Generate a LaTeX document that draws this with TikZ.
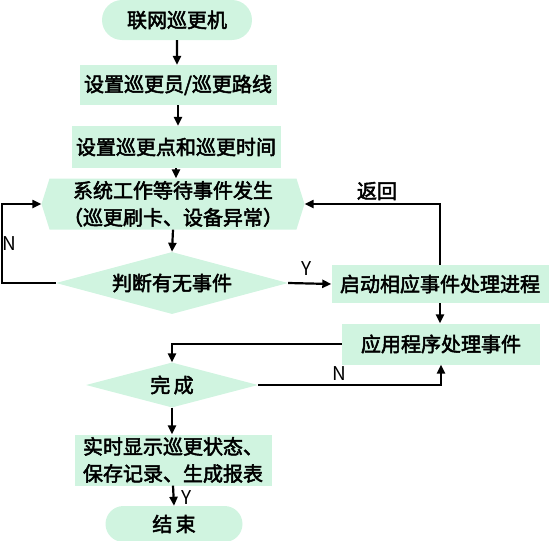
\documentclass[tikz,border=0pt]{standalone}
\usepackage{fontspec}
\setmainfont{Noto Sans CJK SC}[FakeBold=2.5]
\newfontfamily\latinlab{Noto Sans CJK SC}
\usetikzlibrary{shapes.geometric,shapes.misc,shapes.symbols,arrows.meta}
\definecolor{mint}{RGB}{208,244,224}
\begin{document}
\begin{tikzpicture}[x=1pt,y=-1pt,
  every node/.style={font=\fontsize{20}{27}\selectfont, inner sep=0pt},
  box/.style={fill=mint, rectangle},
  term/.style={fill=mint, rounded rectangle},
  dia/.style={fill=mint, diamond, aspect=3.7},
  hexa/.style={fill=mint, signal, signal to=east and west, signal pointer angle=145},
  conn/.style={line width=2.2pt, -{Triangle[length=9pt,width=8pt]}},
  lab/.style={font=\latinlab\fontsize{19}{22}\selectfont}]
\useasboundingbox (0,0) rectangle (550,541);

\node[term, minimum width=150pt, minimum height=40pt] (start) at (177,20) {联网巡更机};
\node[box, minimum width=197pt, minimum height=40pt] (s1) at (178,85) {设置巡更员/巡更路线};
\node[box, minimum width=209pt, minimum height=42pt] (s2) at (176,147) {设置巡更点和巡更时间};
\node[hexa, minimum width=263pt, minimum height=51pt, align=center] (wait) at (173,204) {系统工作等待事件发生\\（巡更刷卡、设备异常）};
\node[dia, minimum width=232pt, minimum height=62pt] (judge) at (172,283) {判断有无事件};
\node[box, minimum width=217pt, minimum height=38pt] (proc) at (440,284) {启动相应事件处理进程};
\node[box, minimum width=198pt, minimum height=41pt] (app) at (441,344) {应用程序处理事件};
\node[dia, minimum width=172pt, minimum height=45pt] (done) at (172,385) {完\,成};
\node[box, minimum width=197pt, minimum height=51pt, align=left] (show) at (173,460) {实时显示巡更状态、\\保存记录、生成报表};
\node[term, minimum width=137pt, minimum height=36pt] (stop) at (174,524) {结\,束};

\draw[conn] (start) -- (start |- s1.north);
\draw[conn] (s1) -- (s1 |- s2.north);
\draw[conn] (s2) -- (s2 |- wait.north);
\draw[conn] (wait.south) -- (judge.north);
\draw[conn] (judge.west) -- ++(-54,0) |- (wait.west);
\node[lab] (nlab1) at (9,244) {N};
\draw[conn] (judge.east) -- (proc.west);
\node[lab] (ylab1) at (307,269) {Y};
\draw[conn] (proc.north) |- (wait.east);
\node (ret) at (377,191) {返回};
\draw[conn] (proc.south) -- (proc.south |- app.north);
\draw[conn] (app.west) -| (done.north);
\draw[conn] (done.east) -| (app.south);
\node[lab] (nlab2) at (339,374) {N};
\draw[conn] (done.south) -- (done.south |- show.north);
\draw[conn] (show.south) -- (stop.north);
\node[lab] (ylab2) at (187,498) {Y};
\end{tikzpicture}
\end{document}
